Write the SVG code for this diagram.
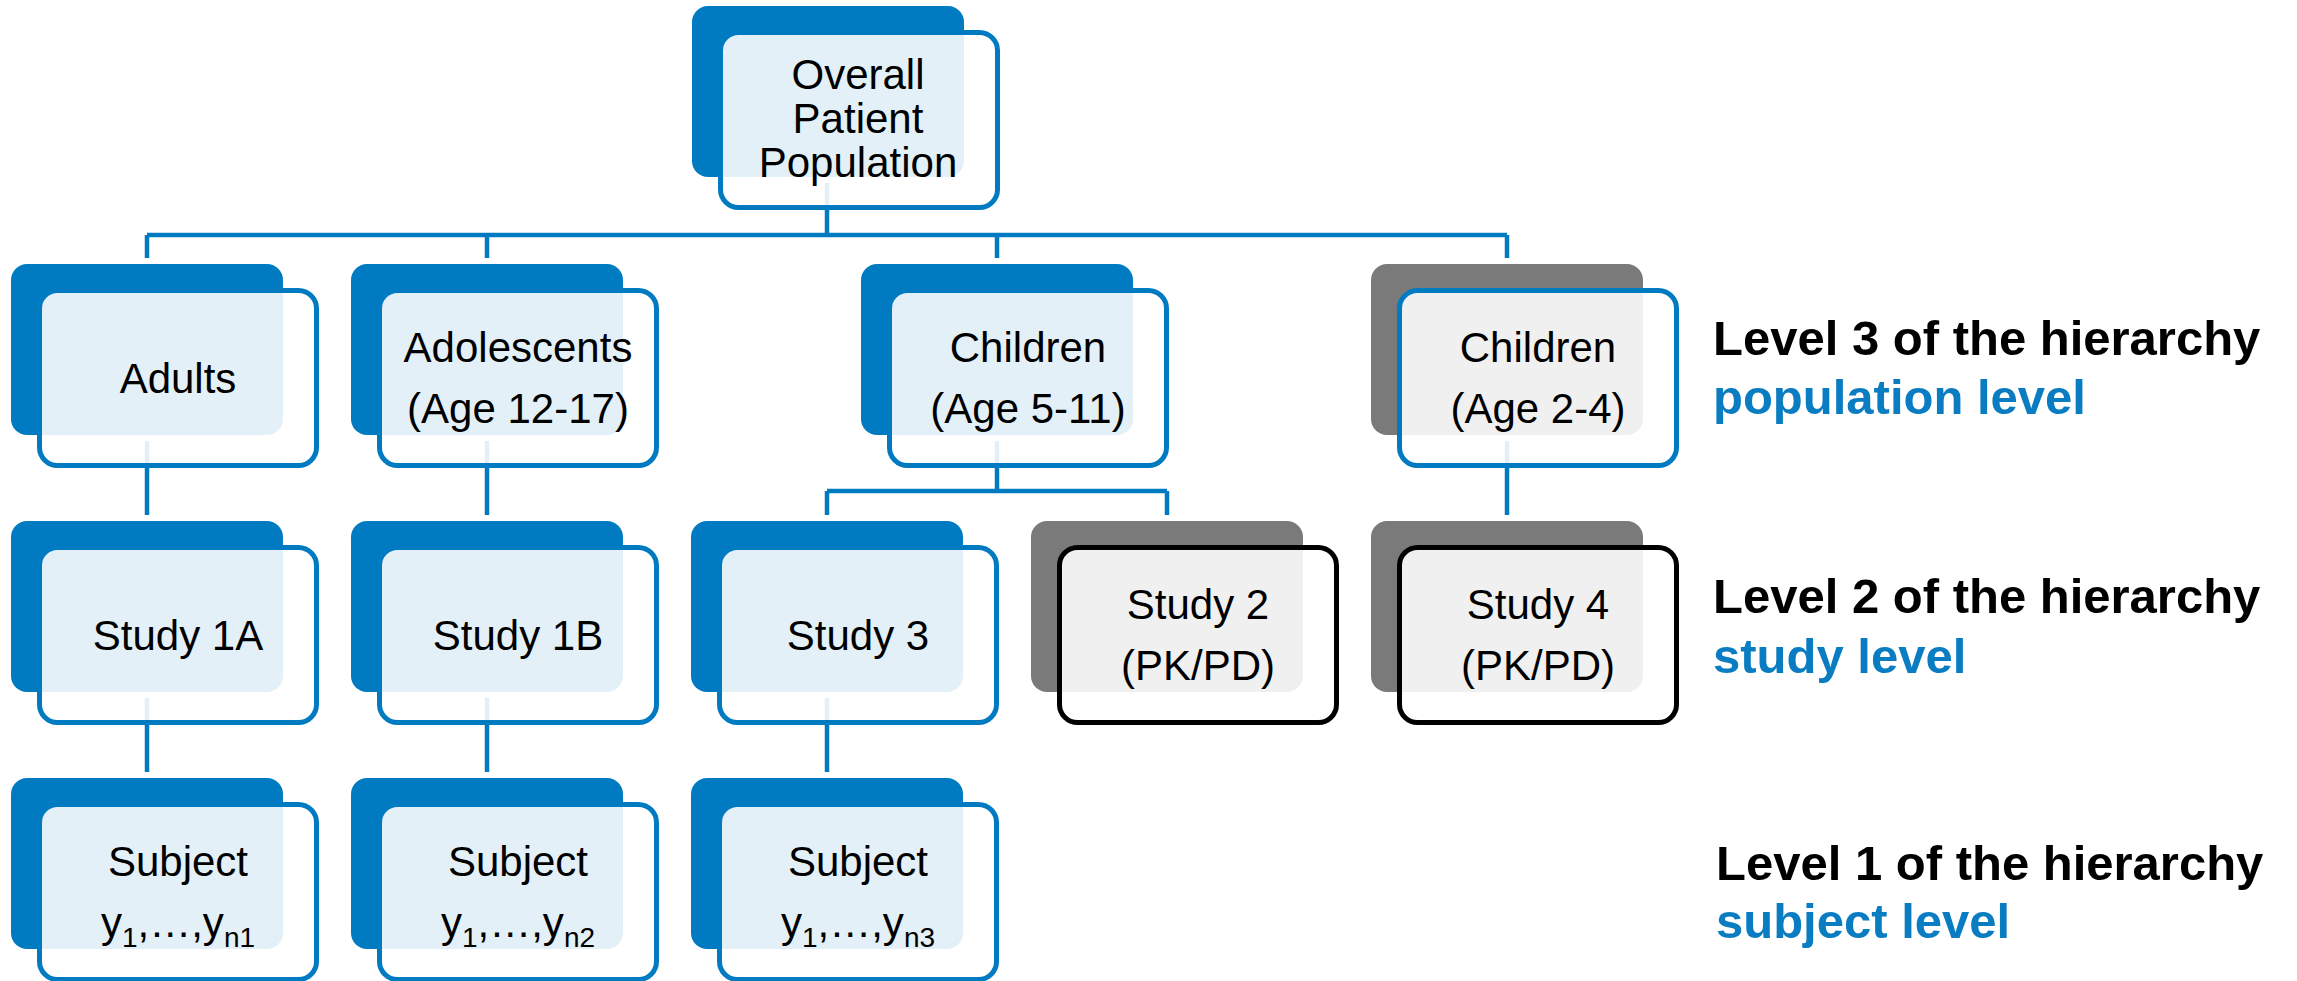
<svg xmlns="http://www.w3.org/2000/svg" width="2297" height="981" viewBox="0 0 2297 981">
<style>
.bb{fill:#007BC1;stroke:none}
.bg{fill:#7A7A7A;stroke:none}
.fr{fill:#FFFFFF;fill-opacity:0.89;stroke-width:5}
.sb{stroke:#007BC1}
.sk{stroke:#000000}
.t{font-family:"Liberation Sans",Arial,sans-serif;font-size:42px;fill:#000;text-anchor:middle}
.sub{font-size:28px}
.lv{font-family:"Liberation Sans",Arial,sans-serif;font-size:49px;font-weight:bold}
.lk{fill:#000}
.lb{fill:#0A7DC2}
.conn line{stroke:#007BC1;stroke-width:4.5;fill:none}
</style>
<rect x="0" y="0" width="2297" height="981" fill="#FFFFFF"/>
<g id="connectors" class="conn">
<line x1="827" y1="183" x2="827" y2="235"/>
<line x1="147" y1="235" x2="1507" y2="235"/>
<line x1="147" y1="235" x2="147" y2="258"/>
<line x1="487" y1="235" x2="487" y2="258"/>
<line x1="997" y1="235" x2="997" y2="258"/>
<line x1="1507" y1="235" x2="1507" y2="258"/>
<line x1="147" y1="441" x2="147" y2="515"/>
<line x1="487" y1="441" x2="487" y2="515"/>
<line x1="1507" y1="441" x2="1507" y2="515"/>
<line x1="997" y1="441" x2="997" y2="491"/>
<line x1="827" y1="491" x2="1167" y2="491"/>
<line x1="827" y1="491" x2="827" y2="515"/>
<line x1="1167" y1="491" x2="1167" y2="515"/>
<line x1="147" y1="698" x2="147" y2="772"/>
<line x1="487" y1="698" x2="487" y2="772"/>
<line x1="827" y1="698" x2="827" y2="772"/>
</g>
<g id="node-overall">
<rect class="bb" x="692" y="6" width="272" height="171" rx="16"/>
<rect class="fr sb" x="720.5" y="32.5" width="277" height="175" rx="18"/>
<text class="t"><tspan x="858" y="89">Overall</tspan><tspan x="858" y="133">Patient</tspan><tspan x="858" y="177">Population</tspan></text>
</g>
<g id="node-adults">
<rect class="bb" x="11" y="264" width="272" height="171" rx="16"/>
<rect class="fr sb" x="39.5" y="290.5" width="277" height="175" rx="18"/>
<text class="t" x="178" y="393">Adults</text>
</g>
<g id="node-adolescents">
<rect class="bb" x="351" y="264" width="272" height="171" rx="16"/>
<rect class="fr sb" x="379.5" y="290.5" width="277" height="175" rx="18"/>
<text class="t"><tspan x="518" y="362">Adolescents</tspan><tspan x="518" y="423">(Age 12-17)</tspan></text>
</g>
<g id="node-children-5-11">
<rect class="bb" x="861" y="264" width="272" height="171" rx="16"/>
<rect class="fr sb" x="889.5" y="290.5" width="277" height="175" rx="18"/>
<text class="t"><tspan x="1028" y="362">Children</tspan><tspan x="1028" y="423">(Age 5-11)</tspan></text>
</g>
<g id="node-children-2-4">
<rect class="bg" x="1371" y="264" width="272" height="171" rx="16"/>
<rect class="fr sb" x="1399.5" y="290.5" width="277" height="175" rx="18"/>
<text class="t"><tspan x="1538" y="362">Children</tspan><tspan x="1538" y="423">(Age 2-4)</tspan></text>
</g>
<g id="node-study-1a">
<rect class="bb" x="11" y="521" width="272" height="171" rx="16"/>
<rect class="fr sb" x="39.5" y="547.5" width="277" height="175" rx="18"/>
<text class="t" x="178" y="650">Study 1A</text>
</g>
<g id="node-study-1b">
<rect class="bb" x="351" y="521" width="272" height="171" rx="16"/>
<rect class="fr sb" x="379.5" y="547.5" width="277" height="175" rx="18"/>
<text class="t" x="518" y="650">Study 1B</text>
</g>
<g id="node-study-3">
<rect class="bb" x="691" y="521" width="272" height="171" rx="16"/>
<rect class="fr sb" x="719.5" y="547.5" width="277" height="175" rx="18"/>
<text class="t" x="858" y="650">Study 3</text>
</g>
<g id="node-study-2">
<rect class="bg" x="1031" y="521" width="272" height="171" rx="16"/>
<rect class="fr sk" x="1059.5" y="547.5" width="277" height="175" rx="18"/>
<text class="t"><tspan x="1198" y="619">Study 2</tspan><tspan x="1198" y="680">(PK/PD)</tspan></text>
</g>
<g id="node-study-4">
<rect class="bg" x="1371" y="521" width="272" height="171" rx="16"/>
<rect class="fr sk" x="1399.5" y="547.5" width="277" height="175" rx="18"/>
<text class="t"><tspan x="1538" y="619">Study 4</tspan><tspan x="1538" y="680">(PK/PD)</tspan></text>
</g>
<g id="node-subject-1">
<rect class="bb" x="11" y="778" width="272" height="171" rx="16"/>
<rect class="fr sb" x="39.5" y="804.5" width="277" height="175" rx="18"/>
<text class="t" x="178" y="876">Subject</text>
<text class="t" x="178" y="937">y<tspan class="sub" dy="10">1</tspan><tspan dy="-10">,…,y</tspan><tspan class="sub" dy="10">n1</tspan></text>
</g>
<g id="node-subject-2">
<rect class="bb" x="351" y="778" width="272" height="171" rx="16"/>
<rect class="fr sb" x="379.5" y="804.5" width="277" height="175" rx="18"/>
<text class="t" x="518" y="876">Subject</text>
<text class="t" x="518" y="937">y<tspan class="sub" dy="10">1</tspan><tspan dy="-10">,…,y</tspan><tspan class="sub" dy="10">n2</tspan></text>
</g>
<g id="node-subject-3">
<rect class="bb" x="691" y="778" width="272" height="171" rx="16"/>
<rect class="fr sb" x="719.5" y="804.5" width="277" height="175" rx="18"/>
<text class="t" x="858" y="876">Subject</text>
<text class="t" x="858" y="937">y<tspan class="sub" dy="10">1</tspan><tspan dy="-10">,…,y</tspan><tspan class="sub" dy="10">n3</tspan></text>
</g>
<g id="level-labels">
<text class="lv lk" x="1713" y="355">Level 3 of the hierarchy</text>
<text class="lv lb" x="1713" y="414">population level</text>
<text class="lv lk" x="1713" y="613">Level 2 of the hierarchy</text>
<text class="lv lb" x="1713" y="673">study level</text>
<text class="lv lk" x="1716" y="880">Level 1 of the hierarchy</text>
<text class="lv lb" x="1716" y="938">subject level</text>
</g>
</svg>
